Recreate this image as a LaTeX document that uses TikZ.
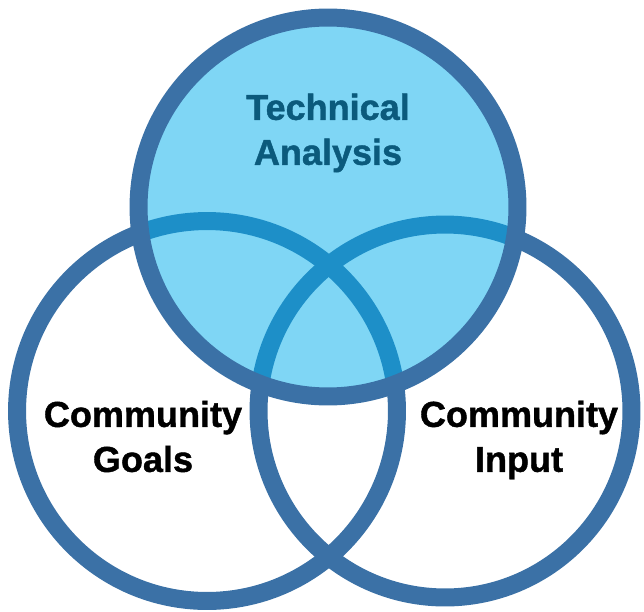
\documentclass[tikz,border=0pt]{standalone}
\usepackage{fontspec}
\setmainfont{Liberation Sans}[BoldFeatures={FakeBold=1.2}]
\definecolor{ringblue}{HTML}{3B71A6}
\definecolor{skyfill}{HTML}{00ADEB}
\definecolor{tealtext}{HTML}{0B5A7C}
\tikzset{
  ring/.style={circle, draw=ringblue, line width=0.36cm, inner sep=0pt},
  label/.style={align=center, font=\bfseries\fontsize{20.5}{25.6}\selectfont}
}
\begin{document}
\begin{tikzpicture}[x=0.02cm, y=-0.02cm]
  \useasboundingbox (0,0) rectangle (644,611);

  % Circulos de abajo
  \node[ring, minimum size=7.6cm]  (goals) at (207,411) {};
  \node[ring, minimum size=7.46cm] (input) at (445,411) {};

  % Circulo de arriba (relleno translucido)
  \node[ring, minimum size=7.58cm, fill=skyfill, fill opacity=0.5] (analysis) at (328,207) {};

  % Textos
  \node[label, text=tealtext] (analysistext) at (328,133) {Technical\\Analysis};
  \node[label] (goalstext) at (143,436.5) {Community\\Goals};
  \node[label] (inputtext) at (519,440) {Community\\Input};
\end{tikzpicture}
\end{document}
